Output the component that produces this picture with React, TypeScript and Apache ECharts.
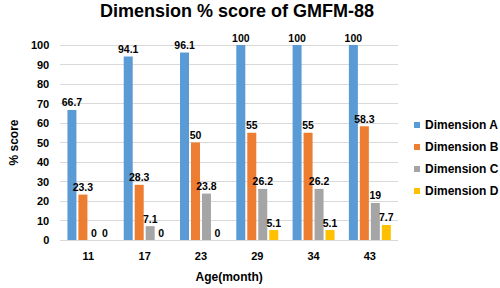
import React, { useEffect, useRef } from "react";
import * as echarts from "echarts";

const categories = ["11", "17", "23", "29", "34", "43"];
const seriesNames = ["Dimension A", "Dimension B", "Dimension C", "Dimension D"];
const dimA = [66.7, 94.1, 96.1, 100, 100, 100];
const dimB = [23.3, 28.3, 50, 55, 55, 58.3];
const dimC = [0, 7.1, 23.8, 26.2, 26.2, 19];
const dimD = [0, 0, 0, 5.1, 5.1, 7.7];
const colors = ["#5B9BD5", "#ED7D31", "#A5A5A5", "#FFC000"];

const FONT = "Liberation Sans, Arial, sans-serif";

export default function App() {
  const ref = useRef<HTMLDivElement>(null);
  useEffect(() => {
    if (!ref.current) return;
    const chart = echarts.init(ref.current, null, { renderer: "svg" });
    const values = [dimA, dimB, dimC, dimD];
    chart.setOption({
      animation: false,
      backgroundColor: "#ffffff",
      textStyle: { fontFamily: FONT },
      title: {
        text: "Dimension % score of GMFM-88",
        left: 237,
        textAlign: "center",
        top: 2,
        padding: 0,
        textStyle: { fontFamily: FONT, fontSize: 18, fontWeight: "bold", color: "#000" },
      },
      legend: {
        orient: "vertical",
        left: 414,
        top: 118,
        itemWidth: 6,
        itemHeight: 6,
        itemGap: 8,
        icon: "rect",
        padding: 0,
        textStyle: { fontFamily: FONT, fontSize: 12, fontWeight: "bold", color: "#000", lineHeight: 14 },
        data: seriesNames,
      },
      grid: { left: 49, right: 102, top: 45, bottom: 45 },
      xAxis: {
        type: "category",
        data: categories,
        name: "Age(month)",
        nameLocation: "middle",
        nameGap: 31,
        nameTextStyle: { fontFamily: FONT, fontSize: 12, fontWeight: "bold", color: "#000" },
        axisLine: { show: true, lineStyle: { color: "#d9d9d9", width: 1 } },
        axisTick: { show: false },
        axisLabel: { fontFamily: FONT, fontSize: 11, fontWeight: "bold", color: "#000", margin: 10 },
      },
      yAxis: {
        type: "value",
        min: 0,
        max: 100,
        interval: 10,
        name: "% score",
        nameLocation: "middle",
        nameGap: 28,
        nameTextStyle: { fontFamily: FONT, fontSize: 12, fontWeight: "bold", color: "#000" },
        axisLine: { show: false },
        axisTick: { show: false },
        splitLine: { lineStyle: { color: "#d9d9d9", width: 1 } },
        axisLabel: { fontFamily: FONT, fontSize: 11, fontWeight: "bold", color: "#000", margin: 11 },
      },
      series: seriesNames.map((name, i) => ({
        name,
        type: "bar",
        data: values[i],
        barWidth: 9,
        barGap: "22%",
        itemStyle: { color: colors[i] },
        label: {
          show: true,
          position: "top",
          distance: 2,
          fontFamily: FONT,
          fontSize: 10.5,
          fontWeight: "bold",
          color: "#000",
        },
      })),
    });
    return () => chart.dispose();
  }, []);
  return (
    <div
      ref={ref}
      style={{ position: "fixed", left: 0, top: 0, width: 500, height: 288 }}
    />
  );
}
